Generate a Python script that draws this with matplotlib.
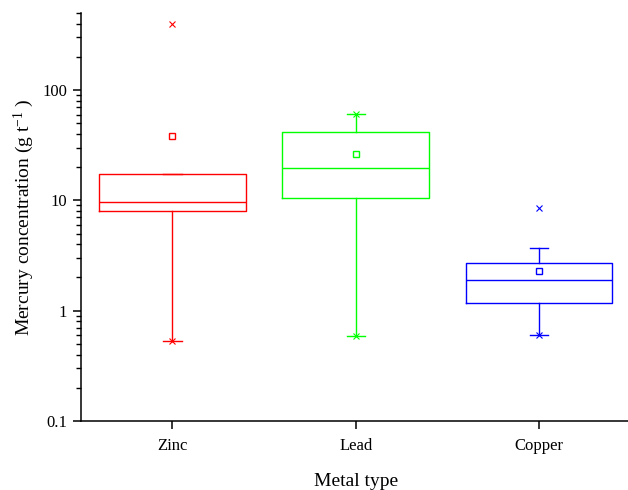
import matplotlib
matplotlib.use("Agg")
import matplotlib.pyplot as plt
from matplotlib.ticker import LogLocator, FixedLocator, FixedFormatter, NullFormatter

plt.rcParams['font.family'] = ['Liberation Serif', 'DejaVu Serif']
plt.rcParams['mathtext.fontset'] = 'custom'
plt.rcParams['mathtext.rm'] = 'Liberation Serif'
plt.rcParams['mathtext.it'] = 'Liberation Serif'
plt.rcParams['mathtext.default'] = 'regular'

# ---- data ----
categories = ["Zinc", "Lead", "Copper"]
q1 = [7.95, 10.6, 1.18]
median = [9.6, 19.7, 1.91]
q3 = [17.4, 41.7, 2.72]
whisker_low = [0.535, 0.594, 0.607]
whisker_high = [17.4, 60.7, 3.72]
means = [38.4, 26.4, 2.30]
minimum = [0.535, 0.594, 0.607]
maximum = [400, 60.7, 8.47]
colors = ["#FF0000", "#00FF00", "#0000FF"]
ytick_vals = [0.1, 1, 10, 100]
ytick_labels = ["0.1", "1", "10", "100"]

fig = plt.figure(figsize=(6.28, 4.90), dpi=100)
ax = fig.add_axes([80.75 / 628, 69 / 490, 550 / 628, 408 / 490])

for i, cat in enumerate(categories):
    stats = [dict(label=cat, q1=q1[i], med=median[i], q3=q3[i],
                  whislo=whisker_low[i], whishi=whisker_high[i],
                  fliers=[minimum[i], maximum[i]])]
    c = colors[i]
    ax.bxp(stats, positions=[i + 1], widths=0.8, showmeans=False,
           boxprops=dict(color=c, linewidth=1.0),
           medianprops=dict(color=c, linewidth=1.0),
           whiskerprops=dict(color=c, linewidth=1.0),
           capprops=dict(color=c, linewidth=1.0),
           capwidths=0.1,
           flierprops=dict(marker='x', markersize=5, markeredgecolor=c,
                           markeredgewidth=0.8, linestyle='none'))
    ax.plot([i + 1], [means[i]], linestyle='none', marker='s', markersize=4.5,
            color=c, markerfacecolor='white', markeredgecolor=c,
            markeredgewidth=1.0)

ax.set_yscale('log')
ax.set_ylim(0.1, 500)
ax.set_xlim(0.5, 3.5)
ax.yaxis.set_major_locator(FixedLocator(ytick_vals))
ax.yaxis.set_major_formatter(FixedFormatter(ytick_labels))
ax.yaxis.set_minor_locator(LogLocator(base=10, subs=range(2, 10)))
ax.yaxis.set_minor_formatter(NullFormatter())
ax.set_xticks([1, 2, 3])
ax.set_xticklabels(categories)

for s in ['top', 'right']:
    ax.spines[s].set_visible(False)
for s in ['left', 'bottom']:
    ax.spines[s].set_linewidth(1.1)

ax.tick_params(axis='both', which='major', direction='out', length=6, width=1.1,
               labelsize=12, pad=4)
ax.tick_params(axis='y', which='minor', direction='out', length=3.5, width=1.0)
ax.tick_params(axis='x', which='major', pad=6)

ax.set_xlabel("Metal type", fontsize=14, labelpad=14)
ax.set_ylabel("Mercury concentration (g t$^{-1}$ )", fontsize=14, labelpad=4)

fig.savefig("out.png", dpi=100)
